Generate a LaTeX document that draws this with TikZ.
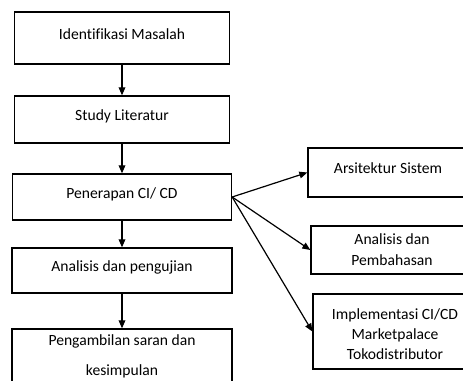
\documentclass[tikz,border=0pt]{standalone}
\usepackage{fontspec}
\setmainfont{Carlito}[Ligatures=CommonOff]
\usetikzlibrary{arrows.meta}

\begin{document}
\begin{tikzpicture}[x=0.75pt,y=-0.75pt,
    stepbox/.style={draw,line width=1pt,align=center,inner sep=0pt,
                    font=\fontsize{11.7}{15}\selectfont,text depth=6pt},
    flow/.style={-{Triangle[length=6pt,width=5pt]},line width=0.9pt}]
  \useasboundingbox (0,0) rectangle (463,381);
  \clip (0,0) rectangle (463,381);
  % main steps
  \node[stepbox,minimum width=161.25pt,minimum height=39pt] (b1) at (122,38)    {Identifikasi Masalah};
  \node[stepbox,minimum width=161.25pt,minimum height=35.25pt] (b2) at (122,119.5) {Study Literatur};
  \node[stepbox,minimum width=164.25pt,minimum height=34.5pt] (b3) at (122,197)   {Penerapan CI/ CD};
  \node[stepbox,minimum width=165pt,minimum height=33.75pt] (b4) at (122,270.5) {Analisis dan pengujian};
  \node[stepbox,minimum width=165pt,minimum height=45pt] (b5) at (122,359) {Pengambilan saran dan\\[7.5pt]kesimpulan};
  % side steps
  \node[stepbox,minimum width=120pt,minimum height=36.75pt] (s1) at (388,172.5) {Arsitektur Sistem};
  \node[stepbox,minimum width=121.5pt,minimum height=36pt] (s2) at (392,250) {\rule{0pt}{13.5pt}Analisis dan\\[0.75pt]Pembahasan};
  \node[stepbox,minimum width=123pt,minimum height=56.25pt] (s3) at (395,331.5) {\rule{0pt}{18pt}Implementasi CI/CD\\Marketpalace\\Tokodistributor};
  \draw[flow] (b1) -- (b2);
  \draw[flow] (b2) -- (b3);
  \draw[flow] (b3) -- (b4);
  \draw[flow] (b4) -- (b5);
  \draw[flow] (b3.east) -- (s1.west);
  \draw[flow] (b3.east) -- (s2.west);
  \draw[flow] (b3.east) -- (s3.west);
\end{tikzpicture}
\end{document}
